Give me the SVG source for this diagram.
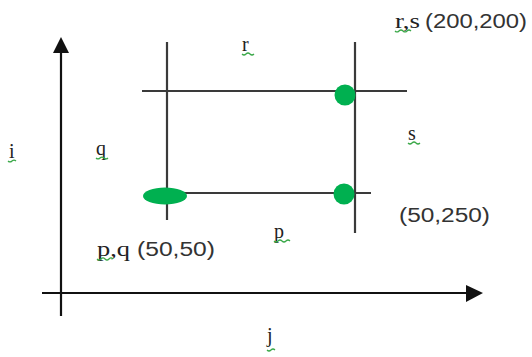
<svg xmlns="http://www.w3.org/2000/svg" width="532" height="357" viewBox="0 0 532 357">
<defs>
<style>
.ln{stroke:#3a3a3a;stroke-width:2.2;fill:none}
.ax{stroke:#111;stroke-width:2.2;fill:none}
.dot{fill:#00b050}
.lb{font-family:"Liberation Serif",serif;font-size:20px;fill:#222}
.co{font-family:"Liberation Sans",Arial,sans-serif;font-size:20px;fill:#333}
.sq{stroke:#3aa848;stroke-width:1.2;fill:none}
</style>
</defs>
<rect width="532" height="357" fill="#fff"/>
<g id="connectors">
<line class="ax" x1="61" y1="316" x2="61" y2="52"/>
<path d="M61,37 L69,53 L53,53 Z" fill="#111"/>
<line class="ax" x1="42" y1="293" x2="467" y2="293"/>
<path d="M483,293 L466,285 L466,302 Z" fill="#111"/>
<line class="ln" x1="167" y1="42" x2="167" y2="220"/>
<line class="ln" x1="355" y1="42" x2="355" y2="233"/>
<line class="ln" x1="142" y1="91" x2="407" y2="91"/>
<line class="ln" x1="165" y1="193" x2="371" y2="193"/>
</g>
<g id="node-rs"><circle class="dot" cx="345" cy="95" r="10.5"/></g>
<g id="node-p250"><circle class="dot" cx="344" cy="194" r="10.5"/></g>
<g id="node-pq"><ellipse class="dot" cx="165" cy="196" rx="22" ry="8.5"/></g>
<g id="labels">
<text class="lb" x="242" y="51">r</text>
<path class="sq" d="M242,54 q2,2 4,0 q2,-2 4,0 q2,2 4,0"/>
<text class="lb" x="96" y="155">q</text>
<path class="sq" d="M96,158 q2,2 4,0 q2,-2 4,0 q2,2 4,0"/>
<text class="lb" x="9" y="158">i</text>
<path class="sq" d="M8,161 q2,2 4,0 q2,-2 4,0"/>
<text class="lb" x="408" y="140">s</text>
<path class="sq" d="M408,143 q2,2 4,0 q2,-2 4,0 q2,2 4,0"/>
<text class="lb" x="274" y="238">p</text>
<path class="sq" d="M274,241 q2,2 4,0 q2,-2 4,0 q2,2 4,0 q2,-2 4,0"/>
<text class="lb" x="267" y="342">j</text>
<path class="sq" d="M267,350 q2,2 4,0 q2,-2 4,0"/>
<text class="lb" x="395" y="28" textLength="25" lengthAdjust="spacingAndGlyphs">r,s</text>
<text class="co" x="425" y="28" textLength="102" lengthAdjust="spacingAndGlyphs">(200,200)</text>
<path class="sq" d="M395,31 q2,2 4,0 q2,-2 4,0 q2,2 4,0 q2,-2 4,0"/>
<text class="co" x="399" y="222" textLength="91" lengthAdjust="spacingAndGlyphs">(50,250)</text>
<text class="lb" x="97" y="256" textLength="33" lengthAdjust="spacingAndGlyphs">p,q</text>
<text class="co" x="137" y="256" textLength="78" lengthAdjust="spacingAndGlyphs">(50,50)</text>
<path class="sq" d="M97,259 q2,2 4,0 q2,-2 4,0 q2,2 4,0 q2,-2 4,0"/>
</g>
</svg>
